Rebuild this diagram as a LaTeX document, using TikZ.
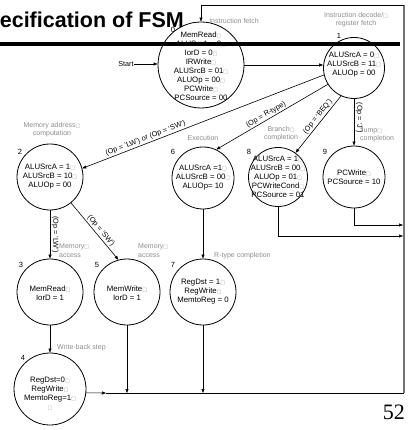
\documentclass[tikz,border=0pt]{standalone}
\usepackage{fontspec}
\setmainfont{Liberation Sans}
\newfontfamily\serifnum{Liberation Serif}
\newfontfamily\boxfont{DejaVu Sans}
\usetikzlibrary{arrows.meta}
\newcommand{\bx}{{\boxfont\fontsize{5}{5}\selectfont\textcolor{black!40}{□}}}
\tikzset{state/.style={circle,draw,inner sep=0pt,line width=0.8pt},
         stt/.style={font=\fontsize{7.8}{9}\selectfont,align=center,inner sep=0pt},
      numlab/.style={font=\fontsize{7.5}{9}\selectfont,inner sep=0pt},
       phase/.style={text=black!45,font=\fontsize{7}{8.6}\selectfont,align=center,inner sep=0pt},
        cond/.style={font=\fontsize{7.3}{8}\selectfont,sloped,above,inner sep=1.5pt},
          tr/.style={line width=0.6pt,-{Triangle[length=4pt,width=3pt]}},
     retline/.style={line width=1.4pt,black!55}
         }

\begin{document}
\begin{tikzpicture}[x=1pt,y=-1pt]
  \useasboundingbox (0,0) rectangle (409,430);

  \node[anchor=base east,font=\fontsize{21.5}{24}\selectfont\bfseries,inner sep=0pt] (title) at (184,28) {ecification of FSM};

  % states
  \node[state,minimum size=86pt,label={[stt,yshift=-1pt]center:{MemRead\bx\\ALUSrcA = 0\bx\\IorD = 0\bx\\IRWrite\bx\\ALUSrcB = 01\bx\\ALUOp = 00\bx\\PCWrite\bx\\PCSource = 00}}] (s0) at (201,65) {};
  \node[state,minimum size=61pt,label={[stt,yshift=3pt]center:{ALUSrcA = 0\bx\\ALUSrcB = 11\bx\\ALUOp = 00}}] (s1) at (354,68) {};
  \node[state,minimum size=66pt,label={[stt]center:{ALUSrcA = 1\bx\\ALUSrcB = 10\bx\\ALUOp = 00}}] (s2) at (50,177) {};
  \node[state,minimum size=62pt,label={[stt]center:{ALUSrcA =1\bx\\ALUSrcB = 00\bx\\ALUOp= 10}}] (s6) at (203,178) {};
  \node[state,minimum size=59pt,label={[stt]center:{ALUSrcA = 1\bx\\ALUSrcB = 00\bx\\ALUOp = 01\bx\\PCWriteCond\bx\\PCSource = 01}}] (s8) at (278,177) {};
  \node[state,minimum size=62pt,label={[stt]center:{PCWrite\bx\\PCSource = 10}}] (s9) at (354,177) {};
  \node[state,minimum size=66pt,label={[stt,yshift=-1pt]center:{MemRead\bx\\IorD = 1}}] (s3) at (50,292) {};
  \node[state,minimum size=66pt,label={[stt,yshift=-1pt]center:{MemWrite\bx\\IorD = 1}}] (s5) at (127,292) {};
  \node[state,minimum size=66pt,label={[stt]center:{RegDst = 1\bx\\RegWrite\bx\\MemtoReg = 0}}] (s7) at (203,292) {};
  \node[state,minimum size=72pt,label={[stt,yshift=-5pt]center:{RegDst=0\bx\\RegWrite\bx\\MemtoReg=1\bx\\\bx}}] (s4) at (50,389) {};

  \foreach \n/\x/\y in {0/173/30,1/339/36,2/20/152,6/173/152,8/249/152,9/325/152,3/21/265,5/97/265,7/173/265,4/23/358}
    \node[numlab] (l\n) at (\x,\y) {\n};

  % phase names
  \node[phase] (ifetch) at (234,21) {Instruction fetch};
  \node[phase] (idecode) at (356,19.5) {Instruction decode/\bx\\register fetch};
  \node[phase] (maddr) at (52,129.5) {Memory address\bx\\computation};
  \node[phase] (exec) at (203,138) {Execution};
  \node[phase] (bcomp) at (281,133.5) {Branch\bx\\completion};
  \node[phase,anchor=west,align=left] (jcomp) at (360,135) {Jump\bx\\completion};
  \node[phase,anchor=west,align=left] (macc3) at (59,250.5) {Memory\bx\\access};
  \node[phase,anchor=west,align=left] (macc5) at (138,250.5) {Memory\bx\\access};
  \node[phase,anchor=west] (rcomp) at (214,256) {R-type completion};
  \node[phase,anchor=west] (wback) at (57,348) {Write-back step};

  \node[font=\fontsize{7.2}{8}\selectfont,inner sep=0pt] (start) at (126,64) {Start};

  % transitions
  \draw[tr] (start) -- (start -| s0.west);
  \draw[tr] (s0.east) -- (s0.east -| s1.west);
  \draw[tr] (s1.193) -- (s2.15) node[cond,pos=0.73] {(Op = `LW') or (Op = `SW')};
  \draw[tr] (s1.212) -- (s6.65) node[cond,pos=0.53] {(Op = R-type)};
  \draw[tr] (s1.245) -- (s8.54) node[cond,pos=0.42] {(Op = `BEQ')};
  \draw[tr] (s1.south) -- (s9.north) node[cond,pos=0.4] {(Op = `J')};
  \draw[tr] (s2.south) -- (s3.north) node[cond,pos=0.5] {(Op = `LW')};
  \draw[tr] (s2.309) -- (s5.105) node[cond,pos=0.55] {(Op = `SW')};
  \draw[tr] (s3.south) -- (s4.north);
  \draw[tr] (s6.south) -- (s7.north);

  % back to state 0
  \coordinate (br) at (404,393);
  \coordinate (tr) at (404,5);
  \coordinate (j4) at (106,393);
  \coordinate (c8) at (403,236);
  \coordinate (c9) at (403,225);
  \draw[tr] (s4.-6) -- (j4);
  \draw[line width=0.6pt] (j4) -- (br);
  \draw[tr] (s5.south) -- (s5.south |- br);
  \draw[tr] (s7.south) -- (s7.south |- br);
  \draw[tr] (s8.south) |- (c8);
  \draw[tr] (s9.south) |- (c9);
  \draw[retline] (br) -- (tr);
  \draw[tr] (tr) -| (s0.north);

  \fill (0,41.7) rectangle (400,45.7);

  \node[anchor=base east,font=\serifnum\fontsize{22}{24}\selectfont,inner sep=0pt] (pgnum) at (405,419) {52};
\end{tikzpicture}
\end{document}
